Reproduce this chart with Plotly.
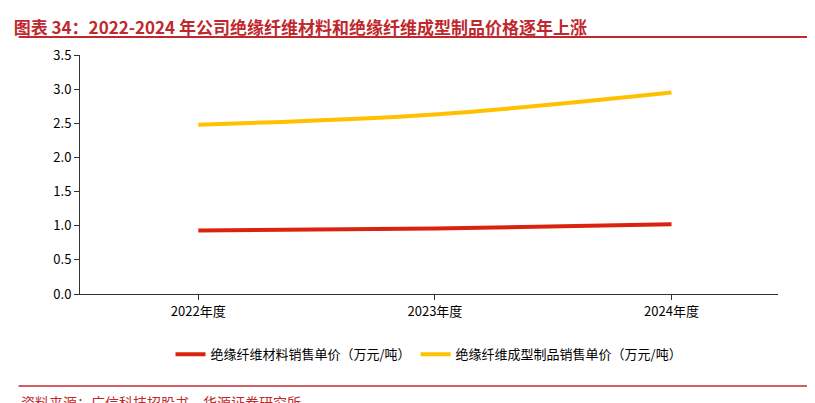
import plotly.graph_objects as go

categories = ["2022年度", "2023年度", "2024年度"]
material = [0.93, 0.96, 1.02]
product = [2.48, 2.63, 2.95]
name1 = "绝缘纤维材料销售单价（万元/吨）"
name2 = "绝缘纤维成型制品销售单价（万元/吨）"

fig = go.Figure()
fig.add_trace(go.Scatter(x=categories, y=material, mode="lines", name=name1,
                         line=dict(color="#D9230F", width=4, shape="spline")))
fig.add_trace(go.Scatter(x=categories, y=product, mode="lines", name=name2,
                         line=dict(color="#FFC000", width=4, shape="spline")))
fig.update_layout(
    width=815, height=403, paper_bgcolor="white", plot_bgcolor="white",
    margin=dict(l=72, r=45, t=47, b=117),
    font=dict(family="Noto Sans CJK SC, Liberation Sans", size=13, color="black"),
    showlegend=True,
    legend=dict(orientation="h", x=0.5, xanchor="center", y=-0.19, yanchor="top",
                font=dict(size=13)),
    xaxis=dict(showline=True, linecolor="#333", ticks="outside", tickcolor="#333",
               showgrid=False, range=[-0.5, 2.45], ticklen=5),
    yaxis=dict(showline=True, linecolor="#333", ticks="outside", tickcolor="#333",
               showgrid=False, range=[0, 3.5], dtick=0.5, tickformat=".1f",
               zeroline=False, ticklen=5),
    title=dict(text="<b>图表 34：2022-2024 年公司绝缘纤维材料和绝缘纤维成型制品价格逐年上涨</b>",
               x=0.007, xanchor="left", y=0.965, yanchor="top",
               font=dict(size=17, color="#C0282E")),
)
fig.add_shape(type="line", xref="paper", yref="paper", x0=-0.088, x1=1.055, y0=1.075, y1=1.075,
              line=dict(color="#C0282E", width=2))
fig.add_shape(type="line", xref="paper", yref="paper", x0=-0.088, x1=1.055, y0=-0.385, y1=-0.385,
              line=dict(color="#C0282E", width=1.5))
fig.add_annotation(text="资料来源：广信科技招股书、华源证券研究所", xref="paper", yref="paper",
                   x=-0.088, y=-0.40, xanchor="left", yanchor="top", showarrow=False,
                   font=dict(size=14, color="#C0282E"))
fig.write_html("out.html")
